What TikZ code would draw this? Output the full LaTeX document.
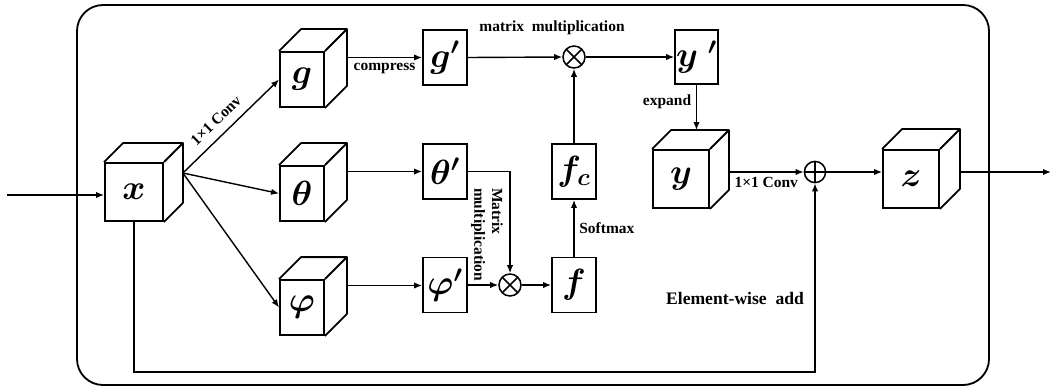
\documentclass[tikz,border=0pt]{standalone}
\usepackage{amsmath}
\usepackage{bm}
\usepackage{fontspec}
\setmainfont{Liberation Serif}
\usetikzlibrary{arrows.meta}
\tikzset{
  cubeface/.style={
    rectangle,
    minimum width=1.1cm,
    minimum height=1.375cm,
    inner sep=0pt,
    line width=1.3pt,
    draw=black,
    font=\fontsize{25}{27}\selectfont,
  },
  cubeedge/.style={
    line width=1.3pt,
    line join=round,
    draw=black,
  },
  featbox/.style={
    rectangle,
    minimum width=1.1cm,
    minimum height=1.375cm,
    inner sep=0pt,
    line width=1.3pt,
    draw=black,
    font=\fontsize{25}{27}\selectfont,
  },
  mulop/.style={
    circle,
    minimum size=0.55cm,
    inner sep=0pt,
    line width=1.1pt,
    draw=black,
    path picture={
      \draw[line width=1.1pt]
        (path picture bounding box.north west) -- (path picture bounding box.south east)
        (path picture bounding box.south west) -- (path picture bounding box.north east);
    },
  },
  addop/.style={
    circle,
    minimum size=0.53cm,
    inner sep=0pt,
    line width=1.1pt,
    draw=black,
    path picture={
      \draw[line width=1.1pt]
        (path picture bounding box.north) -- (path picture bounding box.south)
        (path picture bounding box.west) -- (path picture bounding box.east);
    },
  },
  flow/.style={
    -{Latex[length=2mm,width=1.6mm]},
    line width=1pt,
    draw=black,
  },
  lbl/.style={
    align=center,
    font=\bfseries\fontsize{11}{12.5}\selectfont,
  },
}

\begin{document}
\begin{tikzpicture}[x=0.025cm,y=-0.025cm]
  \useasboundingbox (0,0) rectangle (1052,390);

  % Outer frame of the block.
  \draw[line width=1.3pt, rounded corners=0.65cm] (77,5) rectangle (989,385);

  % Feature cubes (front faces).
  \node[cubeface, minimum width=1.45cm, minimum height=1.45cm] (x) at (134,192) {$\bm{x}$};
  \node[cubeface] (g)  at (302,79.5)  {$\bm{g}$};
  \node[cubeface] (th) at (302,193.5) {$\bm{\theta}$};
  \node[cubeface] (ph) at (302,307.5) {$\bm{\varphi}$};
  \node[cubeface, minimum width=1.4cm, minimum height=1.45cm] (y) at (681,179) {$\bm{y}$};
  \node[cubeface, minimum width=1.4cm, minimum height=1.45cm] (z) at (911,179) {$\bm{z}$};

  % Top and side faces of every cube.
  \foreach \c/\d in {x/19, g/22, th/22, ph/22, y/19, z/20}{
    \draw[cubeedge] (\c.north west) -- ++(\d,-\d)
      -- ([shift={(\d,-\d)}]\c.north east)
      -- ([shift={(\d,-\d)}]\c.south east) -- (\c.south east)
      (\c.north east) -- ++(\d,-\d);
    \coordinate (\c-back) at ([shift={(\d,-\d)}]\c.east);
    \coordinate (\c-top) at ([shift={(\d,-\d)}]\c.north);
  }

  % Compressed features and attention maps.
  \node[featbox] (gp)  at (445,57.5)  {$\bm{g}^{\bm{\prime}}$};
  \node[featbox] (thp) at (445,171.5) {$\bm{\theta}^{\bm{\prime}}$};
  \node[featbox] (php) at (445,285)   {$\bm{\varphi}^{\bm{\prime}}$};
  \node[featbox] (f)   at (574,285)   {$\bm{f}$};
  \node[featbox] (fc)  at (574,171.5) {$\bm{f_c}$};
  \node[featbox, minimum width=1.075cm, minimum height=1.35cm] (yp) at (696.5,57) {$\bm{y}\;{}^{\bm{\prime}}$};

  % Operators.
  \node[mulop] (mul1) at (574,57) {};
  \node[mulop] (mul2) at (510,285) {};
  \node[addop] (add)  at (815,172) {};

  % Free ends of the input and output.
  \coordinate (in)  at (7,195);
  \coordinate (out) at (1051,172);
  \coordinate (skip) at (134,372);

  % 1x1 convolutions from the input.
  \draw[flow] (in) -- (in -| x.west);
  \draw[flow] (x-back) -- node[lbl, above=3pt, sloped, pos=0.45] {1×1 Conv} (g.west);
  \draw[flow] (x-back) -- (th.west);
  \draw[flow] (x-back) -- (ph.west);

  % Compression of each branch.
  \draw[flow] (g-back) -- node[lbl, below] {compress} (g-back -| gp.west);
  \draw[flow] (th-back) -- (th-back -| thp.west);
  \draw[flow] (ph-back) -- (ph-back -| php.west);

  % Attention map.
  \draw[flow] (thp.east) -| (mul2.north);
  \draw[flow] (php.east) -- (mul2.west);
  \draw[flow] (mul2.east) -- (f.west);
  \draw[flow] (f.north) -- node[lbl, right] {Softmax} (fc.south);
  \draw[flow] (fc.north) -- (mul1.south);
  \draw[flow] (gp.east) -- (mul1.west);
  \draw[flow] (mul1.east) -- (yp.west);
  \node[lbl, rotate=-90, align=left] (mmlabel) at (487,234.5) {Matrix\\multiplication};
  \node[lbl] (mulabel) at (552,28) {matrix\ \ multiplication};

  % Expansion, residual sum and output.
  \draw[flow] (yp.south) -- node[lbl, left, pos=0.37] {expand} (yp.south |- y-top);
  \draw[flow] (y-back |- add) -- node[lbl, below] {1×1 Conv} (add.west);
  \draw[flow] (x.south) -- (skip) -| (add.south);
  \draw[flow] (add.east) -- (add -| z.west);
  \draw[flow] (out -| z-back) -- (out);
  \node[lbl, font=\bfseries\fontsize{12.5}{14}\selectfont] (addlabel) at (735,298) {Element-wise\ \ add};
\end{tikzpicture}
\end{document}
